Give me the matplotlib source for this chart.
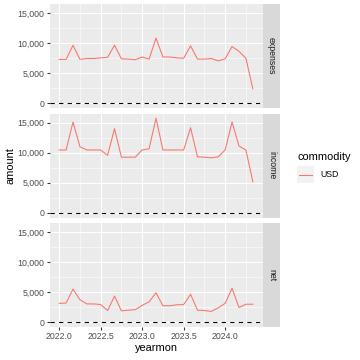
import numpy as np
import pandas as pd
import matplotlib
matplotlib.use("Agg")
import matplotlib.pyplot as plt
from matplotlib.ticker import FuncFormatter

plt.rcParams["font.family"] = ["Liberation Sans", "DejaVu Sans"]

# meses (Jan 2022 .. May 2024) como yearmon decimal
months = pd.date_range("2022-01-01", "2024-05-01", freq="MS")
yearmon = np.array(months.year + (months.month - 1) / 12.0)

expenses = [7300, 7300, 9650, 7300, 7450, 7450, 7550, 7650, 9650, 7400,
            7350, 7250, 7700, 7350, 10850, 7700, 7700, 7550, 7500, 9550,
            7350, 7350, 7450, 7050, 7400, 9450, 8650, 7500, 2400]
income = [10450, 10450, 15100, 11000, 10450, 10450, 10450, 9550, 14000, 9250,
          9250, 9250, 10450, 10650, 15750, 10450, 10450, 10450, 10450, 14150,
          9300, 9250, 9150, 9300, 10450, 15100, 11100, 10450, 5200]
net = [3150, 3200, 5500, 3750, 3050, 3050, 2950, 1950, 4350, 1900,
       2000, 2100, 2800, 3400, 4900, 2750, 2750, 2900, 2950, 4650,
       2000, 1950, 1800, 2400, 3150, 5650, 2450, 3000, 3000]

facets = ["expenses", "income", "net"]
series = {"expenses": expenses, "income": income, "net": net}
yticks = [0, 5000, 10000, 15000]
xticks = [2022.0, 2022.5, 2023.0, 2023.5, 2024.0]

line_col = "#F8766D"
W = 360.0

def fx(px):
    return px / W

fig = plt.figure(figsize=(5, 5), dpi=72)
fig.patch.set_facecolor("white")

left, right = 49.5, 262.5
tops = [4, 113.5, 223]
ph = 104
ylim = (-790, 16520)
xlim = (2022.0 - 0.1167, 2024.3333 + 0.1167)

for k, name in enumerate(facets):
    top = tops[k]
    ax = fig.add_axes([fx(left), 1 - fx(top + ph), fx(right - left), fx(ph)])
    ax.set_facecolor("#EBEBEB")
    for s in ax.spines.values():
        s.set_visible(False)
    ax.set_xlim(*xlim)
    ax.set_ylim(*ylim)
    # grid
    for y in [2500, 7500, 12500]:
        ax.axhline(y, color="white", lw=0.53, zorder=0)
    for x in np.arange(2022.25, 2024.3, 0.5):
        ax.axvline(x, color="white", lw=0.53, zorder=0)
    for y in yticks:
        ax.axhline(y, color="white", lw=1.07, zorder=0)
    for x in xticks:
        ax.axvline(x, color="white", lw=1.07, zorder=0)
    ax.axhline(0, color="black", lw=1.07, linestyle=(0, (4, 4)), zorder=2)
    ax.plot(yearmon, series[name], color=line_col, lw=1.07, zorder=3)

    ax.set_yticks(yticks)
    ax.yaxis.set_major_formatter(FuncFormatter(lambda v, p: f"{int(v):,}"))
    ax.set_xticks(xticks)
    ax.tick_params(axis="both", length=2.75, width=1.07, color="#333333",
                   labelcolor="#4D4D4D", labelsize=8.8, pad=2.2)
    if k < 2:
        ax.tick_params(axis="x", labelbottom=False, length=0)
    else:
        ax.set_xticklabels([f"{x:.1f}" for x in xticks])

    # strip
    sax = fig.add_axes([fx(right + 0.5), 1 - fx(top + ph), fx(17), fx(ph)])
    sax.set_facecolor("#D9D9D9")
    sax.set_xticks([])
    sax.set_yticks([])
    for s in sax.spines.values():
        s.set_visible(False)
    sax.text(0.5, 0.5, name, rotation=-90, ha="center", va="center",
             fontsize=8.8, color="#1A1A1A", transform=sax.transAxes)

# axis titles
fig.text(fx(156), 1 - fx(348), "yearmon", ha="center", va="center", fontsize=11)
fig.text(fx(10), 1 - fx(165.5), "amount", ha="center", va="center",
         rotation=90, fontsize=11)

# legend
fig.text(fx(297), 1 - fx(157), "commodity", ha="left", va="center", fontsize=11)
kax = fig.add_axes([fx(297), 1 - fx(183), fx(17), fx(17)])
kax.set_facecolor("#F2F2F2")
kax.set_xlim(0, 1)
kax.set_ylim(0, 1)
kax.plot([0.1, 0.9], [0.5, 0.5], color=line_col, lw=1.07)
kax.set_xticks([])
kax.set_yticks([])
for s in kax.spines.values():
    s.set_visible(False)
fig.text(fx(320), 1 - fx(174.5), "USD", ha="left", va="center", fontsize=8.8)

fig.savefig("out.png", dpi=72)
